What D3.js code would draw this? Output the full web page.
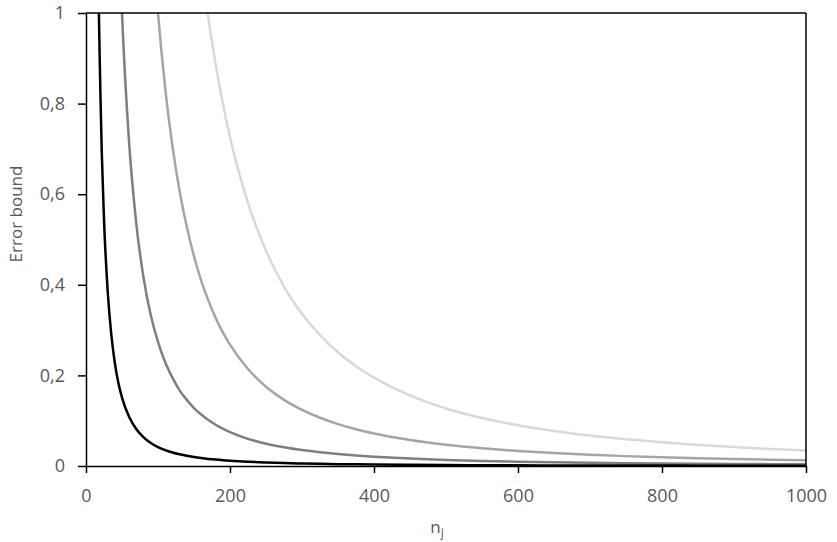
<!DOCTYPE html>
<html>
<head>
<meta charset="utf-8">
<script src="https://cdn.jsdelivr.net/npm/d3@7"></script>
<style>
  html, body { margin: 0; padding: 0; background: #fff; }
  svg { display: block; }
  text { font-family: "Open Sans", "Noto Sans", sans-serif; }
</style>
</head>
<body>
<svg id="chart" width="837" height="542"></svg>
<script>
// ---- data ----
const nValues = [10,15,20,25,30,35,40,45,50,60,70,80,90,100,110,120,130,140,150,160,170,180,190,200,
  225,250,275,300,325,350,375,400,450,500,550,600,650,700,750,800,850,900,950,1000];

const seriesBlack = [2.967,1.401,0.823,0.545,0.389,0.292,0.228,0.183,0.151,
  0.108,0.081,0.0633,0.0509,0.0419,0.0351,0.0299,0.0258,0.0224,0.0198,0.0176,0.0157,0.0141,0.0128,0.0116,
  0.0093,0.0077,0.0064,0.0055,0.0047,0.0041,0.0036,0.0032,
  0.0026,0.0021,0.0018,0.0015,0.0013,0.0011,0.0010,0.0009,0.0008,0.0007,0.00065,0.0006];

const seriesDark = [20.3,9.50,5.55,3.66,2.60,1.95,1.518,1.218,1.0,
  0.711,0.533,0.415,0.333,0.274,0.229,0.195,0.167,0.146,0.128,0.1136,0.1014,0.0911,0.0824,0.0748,
  0.0600,0.0493,0.0413,0.0351,0.0302,0.0263,0.0231,0.0205,
  0.0164,0.0135,0.0113,0.0096,0.0083,0.0072,0.0063,0.0056,0.0050,0.0045,0.0041,0.0037];

const seriesMedium = [79.4,36.8,21.3,13.9,9.85,7.35,5.70,4.56,3.73,
  2.64,1.97,1.53,1.22,1.0,0.834,0.707,0.607,0.528,0.463,0.409,0.365,0.327,0.295,0.268,
  0.214,0.175,0.146,0.124,0.1065,0.0925,0.0812,0.0718,
  0.0574,0.0470,0.0392,0.0332,0.0285,0.0248,0.0218,0.0192,0.0171,0.0154,0.0139,0.0126];

const seriesLight = [215,99.7,57.7,37.8,26.7,19.9,15.5,12.4,10.1,
  7.15,5.34,4.14,3.31,2.71,2.26,1.92,1.65,1.43,1.25,1.11,0.989,0.887,0.801,0.726,
  0.581,0.475,0.396,0.336,0.289,0.251,0.220,0.195,
  0.156,0.127,0.106,0.090,0.0773,0.0672,0.0590,0.0522,0.0465,0.0417,0.0376,0.0341];

const xTicks = [0,200,400,600,800,1000];
const yTicks = [0,0.2,0.4,0.6,0.8,1];
const xTitle = "n";
const xTitleSub = "j";
const yTitle = "Error bound";

// ---- layout ----
const svg = d3.select("#chart");
const plot = {left: 86, right: 806, top: 13, bottom: 466};

const x = d3.scaleLinear().domain([0,1000]).range([plot.left, plot.right]);
const y = d3.scaleLinear().domain([0,1]).range([plot.bottom, plot.top]);

const locale = d3.formatLocale({decimal: ",", thousands: "", grouping: [3], currency: ["",""]});
const yFmt = locale.format("~g");

const series = [
  {values: seriesLight,  color: "#d9d9d9"},
  {values: seriesMedium, color: "#a5a5a5"},
  {values: seriesDark,   color: "#7f7f7f"},
  {values: seriesBlack,  color: "#000000"}
];

svg.append("defs").append("clipPath").attr("id","clip")
  .append("rect")
  .attr("x", plot.left).attr("y", plot.top)
  .attr("width", plot.right - plot.left).attr("height", plot.bottom - plot.top);

const line = d3.line()
  .x(d => x(d[0]))
  .y(d => y(d[1]))
  .curve(d3.curveMonotoneX);

const g = svg.append("g").attr("clip-path","url(#clip)");
series.forEach(s => {
  g.append("path")
    .datum(nValues.map((n,i) => [n, s.values[i]]))
    .attr("fill","none")
    .attr("stroke", s.color)
    .attr("stroke-width", 2.5)
    .attr("stroke-linejoin","round")
    .attr("d", line);
});

// frame (top & right)
svg.append("line").attr("x1",plot.left).attr("x2",plot.right).attr("y1",plot.top).attr("y2",plot.top)
  .attr("stroke","#000").attr("stroke-width",1.5);
svg.append("line").attr("x1",plot.right).attr("x2",plot.right).attr("y1",plot.top).attr("y2",plot.bottom)
  .attr("stroke","#000").attr("stroke-width",1.5);

// axes
const xAxis = d3.axisBottom(x).tickValues(xTicks).tickFormat(d3.format("d"))
  .tickSizeInner(7).tickSizeOuter(0).tickPadding(16);
const yAxis = d3.axisLeft(y).tickValues(yTicks).tickFormat(yFmt)
  .tickSizeInner(8).tickSizeOuter(0).tickPadding(13);

const gx = svg.append("g").attr("transform",`translate(0,${plot.bottom})`).call(xAxis);
const gy = svg.append("g").attr("transform",`translate(${plot.left},0)`).call(yAxis);

[gx, gy].forEach(a => {
  a.select(".domain").attr("stroke","#000").attr("stroke-width",1.5);
  a.selectAll(".tick line").attr("stroke","#000").attr("stroke-width",1.5);
  a.selectAll(".tick text").attr("fill","#595959").style("font-size","18px")
    .style("font-family",'"Open Sans", sans-serif');
});

// titles
svg.append("text")
  .attr("transform", `translate(22,214) rotate(-90)`)
  .attr("text-anchor","middle")
  .attr("fill","#595959")
  .style("font-size","17px")
  .text(yTitle);

const xt = svg.append("text")
  .attr("x", 437).attr("y", 533)
  .attr("text-anchor","middle")
  .attr("fill","#595959")
  .style("font-size","17px");
xt.append("tspan").text(xTitle);
xt.append("tspan").attr("dy", 4).style("font-size","12px").text(xTitleSub);
</script>
</body>
</html>
